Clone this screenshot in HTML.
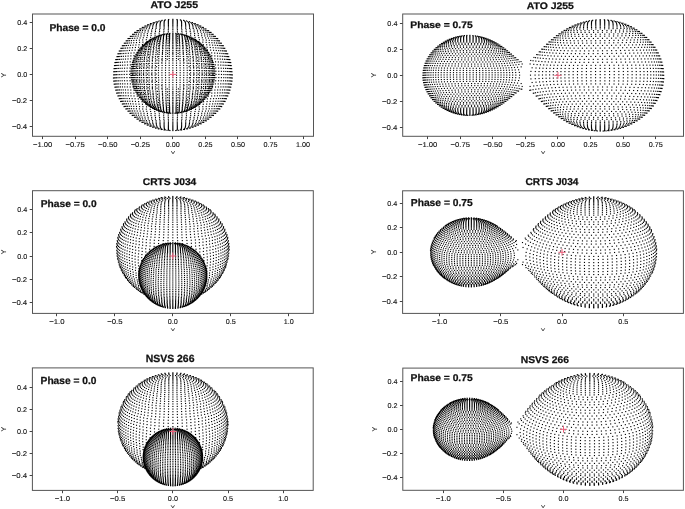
<!DOCTYPE html>
<html><head><meta charset="utf-8"><style>
html,body{margin:0;padding:0;background:#fff}
body{width:685px;height:509px;overflow:hidden;position:relative;font-family:"Liberation Sans", sans-serif}
canvas,svg{position:absolute;left:0;top:0}
svg{fill:#111;font-size:7.0px;font-family:"Liberation Sans", sans-serif;text-rendering:geometricPrecision}
.tk{fill:#111;stroke:#111;stroke-width:0.12px}
.bd{font-weight:bold;stroke:#111;stroke-width:0.25px}
</style></head><body>
<svg id="fb" width="685" height="509" viewBox="0 0 685 509"><polygon points="113.6,79.6 113.4,74.9 113.6,70.3 114.2,65.6 115.2,61.1 116.7,56.7 118.5,52.4 120.7,48.3 123.2,44.5 125.9,40.8 129.0,37.5 132.3,34.3 135.8,31.5 139.4,28.9 143.3,26.7 147.3,24.7 151.4,23.0 155.5,21.7 159.8,20.6 164.1,19.8 164.2,19.8 168.5,19.4 168.6,19.4 172.8,19.2 177.1,19.4 177.2,19.4 181.5,19.8 181.6,19.8 185.9,20.6 190.2,21.7 194.3,23.0 198.4,24.7 202.4,26.7 206.3,28.9 209.9,31.5 213.4,34.3 216.7,37.5 219.8,40.8 222.5,44.5 225.0,48.3 227.2,52.4 229.0,56.7 230.5,61.1 231.5,65.6 232.1,70.3 232.3,74.9 232.1,79.6 231.5,84.2 230.5,88.7 229.0,93.2 227.2,97.4 225.0,101.5 222.5,105.4 219.8,109.0 216.7,112.4 213.4,115.5 213.3,115.6 209.8,118.5 206.1,121.0 202.3,123.3 198.3,125.2 194.2,126.9 190.1,128.2 185.8,129.3 185.6,129.3 181.4,130.0 181.2,130.1 177.0,130.5 176.8,130.5 176.6,130.5 176.4,130.5 176.1,130.5 175.8,130.5 175.4,130.6 175.0,130.6 174.6,130.6 174.2,130.6 173.8,130.6 172.8,130.6 171.9,130.6 171.5,130.6 171.1,130.6 170.7,130.6 170.3,130.6 169.9,130.5 169.6,130.5 169.3,130.5 169.1,130.5 168.9,130.5 168.7,130.5 164.5,130.1 164.3,130.0 160.1,129.3 159.9,129.3 155.6,128.2 151.5,126.9 147.4,125.2 143.4,123.3 139.6,121.0 135.9,118.5 132.4,115.6 132.3,115.5 129.0,112.4 125.9,109.0 123.2,105.4 120.7,101.5 118.5,97.4 116.7,93.2 115.2,88.7 114.2,84.2" fill="rgb(190,190,190)"/><polygon points="130.9,73.3 131.1,70.0 131.5,66.8 132.2,63.6 133.2,60.4 134.4,57.4 135.9,54.5 137.6,51.7 137.7,51.6 139.5,49.1 139.6,49.0 141.7,46.6 144.0,44.3 146.5,42.3 149.1,40.4 151.8,38.8 154.6,37.3 157.5,36.1 160.5,35.1 160.7,35.1 163.7,34.3 166.7,33.8 166.9,33.7 167.1,33.7 170.0,33.4 170.1,33.4 170.3,33.4 170.5,33.4 170.7,33.4 171.0,33.4 171.3,33.4 171.6,33.4 171.9,33.4 172.2,33.3 172.5,33.3 172.8,33.3 173.2,33.3 173.5,33.3 173.8,33.4 174.1,33.4 174.4,33.4 174.7,33.4 175.0,33.4 175.2,33.4 175.4,33.4 175.6,33.4 175.7,33.4 178.6,33.7 178.8,33.7 179.0,33.8 182.0,34.3 185.0,35.1 185.2,35.1 188.2,36.1 191.1,37.3 193.9,38.8 196.6,40.4 199.2,42.3 201.7,44.3 204.0,46.6 206.1,49.0 206.2,49.1 208.0,51.6 208.1,51.7 209.8,54.5 211.3,57.4 212.5,60.4 213.5,63.6 214.2,66.8 214.6,70.0 214.8,73.3 214.6,76.6 214.2,79.9 213.5,83.1 212.5,86.2 211.3,89.2 209.8,92.1 208.1,94.9 206.2,97.5 204.0,100.0 201.8,102.2 199.3,104.3 196.7,106.2 194.0,107.8 191.2,109.3 188.2,110.5 185.3,111.5 185.2,111.5 182.2,112.3 179.1,112.8 176.0,113.2 175.9,113.2 175.8,113.2 175.7,113.2 172.8,113.3 170.0,113.2 169.9,113.2 169.8,113.2 169.7,113.2 166.6,112.8 163.5,112.3 160.5,111.5 160.4,111.5 157.5,110.5 154.5,109.3 151.7,107.8 149.0,106.2 146.4,104.3 143.9,102.2 141.7,100.0 139.5,97.5 137.6,94.9 135.9,92.1 134.4,89.2 133.2,86.2 132.2,83.1 131.5,79.9 131.1,76.6" fill="rgb(164,164,164)"/><polygon points="525.3,87.2 525.3,63.5 547.5,43.1 551.2,39.7 554.9,36.7 558.7,33.8 562.5,31.3 566.5,28.9 570.5,26.8 574.6,25.0 578.7,23.5 582.9,22.2 587.2,21.1 587.3,21.1 591.5,20.3 595.9,19.8 595.9,19.8 596.1,19.8 600.2,19.6 604.4,19.7 604.5,19.7 604.6,19.7 608.9,20.0 613.3,20.6 613.3,20.7 617.7,21.6 622.0,22.8 626.2,24.3 630.4,26.1 634.4,28.2 638.4,30.7 642.2,33.4 645.8,36.4 649.2,39.8 652.3,43.4 655.2,47.3 657.7,51.5 659.9,56.0 661.6,60.6 662.9,65.4 663.6,70.4 663.9,75.3 663.6,80.3 662.9,85.3 661.6,90.1 659.9,94.7 657.7,99.2 655.2,103.4 652.3,107.3 649.2,110.9 645.8,114.3 642.2,117.3 638.4,120.0 634.4,122.5 630.4,124.6 626.2,126.4 622.0,127.9 617.7,129.1 613.3,130.0 613.3,130.1 608.9,130.7 604.6,131.0 604.5,131.0 604.4,131.0 600.2,131.1 596.1,130.9 595.9,130.9 595.9,130.9 591.5,130.4 587.3,129.6 587.2,129.6 582.9,128.5 578.7,127.2 574.6,125.7 570.5,123.9 566.5,121.8 562.5,119.4 558.7,116.9 554.9,114.0 551.2,111.0 547.5,107.6" fill="rgb(216,216,216)"/><polygon points="525.3,84.2 525.0,88.6 503.0,103.6 500.1,105.5 497.2,107.3 494.3,108.9 491.3,110.3 488.4,111.6 485.4,112.7 482.3,113.6 479.3,114.3 479.2,114.3 476.1,114.8 473.0,115.2 473.0,115.2 472.9,115.2 469.9,115.3 466.9,115.3 466.8,115.3 466.8,115.3 463.6,115.1 460.5,114.7 460.5,114.7 457.3,114.1 454.2,113.2 451.1,112.2 448.1,111.0 445.1,109.5 442.2,107.8 439.4,105.9 436.7,103.7 434.1,101.3 431.7,98.7 429.6,95.9 427.6,92.9 425.9,89.6 424.6,86.2 423.6,82.7 423.0,79.0 422.8,75.3 423.0,71.7 423.6,68.0 424.6,64.5 425.9,61.1 427.6,57.8 429.6,54.8 431.7,52.0 434.1,49.4 436.7,47.0 439.4,44.8 442.2,42.9 445.1,41.2 448.1,39.7 451.1,38.5 454.2,37.5 457.3,36.6 460.5,36.0 460.5,36.0 463.6,35.6 466.8,35.4 466.8,35.4 466.9,35.4 469.9,35.4 472.9,35.5 473.0,35.5 473.0,35.5 476.1,35.9 479.2,36.4 479.3,36.4 482.3,37.1 485.4,38.0 488.4,39.1 491.3,40.4 494.3,41.8 497.2,43.4 500.1,45.2 503.0,47.1 525.0,62.1 525.3,66.5" fill="rgb(187,187,187)"/><polygon points="116.4,249.2 116.7,244.9 116.8,243.6 117.4,239.3 118.4,235.2 119.8,231.1 121.5,227.2 122.2,225.9 124.3,222.3 126.6,218.8 129.3,215.6 132.1,212.7 133.1,211.6 136.2,209.0 139.4,206.7 140.6,205.8 143.9,203.8 145.3,203.1 148.5,201.5 150.1,200.9 153.2,199.6 154.7,199.1 157.7,198.3 159.2,197.9 160.8,197.5 163.2,197.1 164.6,196.9 166.1,196.7 167.7,196.5 169.4,196.4 171.1,196.3 172.8,196.3 174.5,196.3 176.2,196.4 177.9,196.5 179.5,196.7 181.0,196.9 182.4,197.1 184.8,197.5 186.4,197.9 187.9,198.3 190.9,199.1 192.4,199.6 195.5,200.9 197.1,201.5 200.3,203.1 201.7,203.8 205.0,205.8 206.2,206.7 209.4,209.0 212.5,211.6 213.5,212.7 216.3,215.6 219.0,218.8 221.3,222.3 223.4,225.9 224.1,227.2 225.8,231.1 227.2,235.2 228.2,239.3 228.8,243.6 228.9,244.9 229.2,249.2 228.9,253.5 228.3,257.8 227.3,262.0 226.9,263.3 225.6,267.3 223.8,271.2 221.8,274.9 219.4,278.3 218.6,279.4 216.0,282.6 213.2,285.6 210.2,288.3 209.1,289.1 206.0,291.5 202.7,293.6 201.5,294.2 198.2,296.0 196.9,296.6 193.6,297.9 192.3,298.4 189.1,299.4 187.8,299.8 186.3,300.1 183.7,300.7 182.4,300.9 180.9,301.1 179.4,301.3 177.8,301.5 176.6,301.6 175.3,301.6 174.1,301.7 172.8,301.7 171.5,301.7 170.3,301.6 169.0,301.6 167.8,301.5 166.2,301.3 164.7,301.1 163.2,300.9 161.9,300.7 159.3,300.1 157.8,299.8 156.5,299.4 153.3,298.4 152.0,297.9 148.7,296.6 147.4,296.0 144.1,294.2 142.9,293.6 139.6,291.5 136.5,289.1 135.4,288.3 132.4,285.6 129.6,282.6 127.0,279.4 126.2,278.3 123.8,274.9 121.8,271.2 120.0,267.3 118.7,263.3 118.3,262.0 117.3,257.8 116.7,253.5" fill="rgb(199,199,199)"/><polygon points="139.2,281.3 138.8,278.7 138.8,277.9 138.7,275.3 138.8,272.7 139.1,270.1 139.7,267.6 140.5,265.1 140.7,264.3 141.7,262.0 142.9,259.7 144.3,257.5 144.8,256.9 146.3,254.9 148.0,253.0 149.8,251.3 150.4,250.7 152.3,249.2 154.3,247.9 155.0,247.5 157.1,246.4 157.9,246.0 159.9,245.1 160.7,244.8 162.7,244.1 163.5,243.9 164.4,243.7 166.0,243.3 166.9,243.1 167.7,243.0 168.7,242.9 169.7,242.8 170.7,242.7 171.7,242.7 172.0,242.7 172.8,242.6 173.6,242.7 173.9,242.7 174.9,242.7 175.9,242.8 176.9,242.9 177.9,243.0 178.7,243.1 179.6,243.3 181.2,243.7 182.1,243.9 182.9,244.1 184.9,244.8 185.7,245.1 187.7,246.0 188.5,246.4 190.6,247.5 191.3,247.9 193.3,249.2 195.2,250.7 195.8,251.3 197.6,253.0 199.3,254.9 200.8,256.9 201.3,257.5 202.7,259.7 203.9,262.0 204.9,264.3 205.1,265.1 205.9,267.6 206.5,270.1 206.8,272.7 206.9,275.3 206.8,277.9 206.8,278.7 206.4,281.3 205.9,283.9 205.1,286.3 204.0,288.7 203.7,289.5 202.5,291.8 201.1,293.9 199.5,295.9 198.9,296.7 197.3,298.5 195.4,300.1 194.6,300.8 192.7,302.2 190.8,303.5 189.9,304.0 187.9,305.0 187.0,305.4 185.0,306.2 184.1,306.6 183.0,306.9 181.3,307.4 180.3,307.6 179.2,307.8 178.0,308.0 177.0,308.1 176.0,308.3 174.9,308.3 173.9,308.4 172.8,308.4 171.7,308.4 170.7,308.3 169.6,308.3 168.6,308.1 167.6,308.0 166.4,307.8 165.3,307.6 164.3,307.4 162.6,306.9 161.5,306.6 160.6,306.2 158.6,305.4 157.7,305.0 155.7,304.0 154.8,303.5 152.9,302.2 151.0,300.8 150.2,300.1 148.3,298.5 146.7,296.7 146.1,295.9 144.5,293.9 143.1,291.8 141.9,289.5 141.6,288.7 140.5,286.3 139.7,283.9" fill="rgb(147,147,147)"/><polygon points="520.5,263.6 519.6,259.8 519.6,244.8 520.5,241.0 543.0,218.9 546.4,215.8 549.9,212.9 553.5,210.3 554.7,209.5 558.3,207.2 561.9,205.1 563.2,204.5 566.8,202.8 568.2,202.2 571.7,200.8 573.2,200.3 576.5,199.3 577.9,198.9 582.2,198.0 583.6,197.7 585.2,197.5 586.7,197.3 589.7,197.0 591.0,196.9 592.4,196.8 593.7,196.8 595.1,196.8 596.4,196.8 597.7,196.9 600.7,197.0 602.4,197.2 603.9,197.4 605.3,197.6 608.1,198.1 609.7,198.4 611.2,198.8 614.5,199.7 616.0,200.2 619.6,201.5 621.0,202.1 624.7,203.8 626.0,204.5 629.7,206.6 633.2,209.0 634.4,209.9 637.9,212.6 641.1,215.7 644.2,219.1 645.1,220.3 647.9,224.0 650.4,228.0 652.5,232.2 654.2,236.7 655.4,241.3 655.8,242.7 656.6,247.5 656.8,252.3 656.6,257.1 655.8,261.9 655.4,263.3 654.2,267.9 652.5,272.4 650.4,276.6 647.9,280.6 645.1,284.3 644.2,285.5 641.1,288.9 637.9,292.0 634.4,294.7 633.2,295.6 629.7,298.0 626.0,300.1 624.7,300.8 621.0,302.5 619.6,303.1 616.0,304.4 614.5,304.9 611.2,305.8 609.7,306.2 608.1,306.5 605.3,307.0 603.9,307.2 602.4,307.4 600.7,307.6 597.7,307.7 596.4,307.8 595.1,307.8 593.7,307.8 592.4,307.8 591.0,307.7 589.7,307.6 586.7,307.3 585.2,307.1 583.6,306.9 582.2,306.6 577.9,305.7 576.5,305.3 573.2,304.3 571.7,303.8 568.2,302.4 566.8,301.8 563.2,300.1 561.9,299.5 558.3,297.4 554.7,295.1 553.5,294.3 549.9,291.7 546.4,288.8 543.0,285.7" fill="rgb(215,215,215)"/><polygon points="519.6,260.9 518.8,263.4 499.1,277.3 496.7,278.8 495.9,279.3 493.6,280.7 491.3,281.9 490.4,282.2 488.2,283.3 485.1,284.4 482.1,285.3 481.2,285.5 479.3,285.9 478.5,286.1 477.6,286.2 476.7,286.4 474.6,286.6 473.8,286.7 473.0,286.8 472.2,286.8 471.3,286.8 470.5,286.8 469.7,286.8 468.8,286.8 468.0,286.8 466.0,286.6 465.0,286.5 464.1,286.4 463.3,286.3 461.3,285.9 460.4,285.7 457.4,284.9 454.2,283.8 451.9,282.8 451.0,282.4 448.7,281.1 446.4,279.7 445.6,279.2 443.3,277.5 441.2,275.6 439.1,273.5 438.5,272.8 436.6,270.4 434.9,267.9 433.5,265.2 432.3,262.4 431.4,259.4 431.1,258.5 430.6,255.4 430.4,252.3 430.6,249.2 431.1,246.1 431.4,245.2 432.3,242.2 433.5,239.4 434.9,236.7 436.6,234.2 438.5,231.8 439.1,231.1 441.2,229.0 443.3,227.1 445.6,225.4 446.4,224.9 448.7,223.5 451.0,222.2 451.9,221.8 454.2,220.8 457.4,219.7 460.4,218.9 461.3,218.7 463.3,218.3 464.1,218.2 465.0,218.1 466.0,218.0 468.0,217.8 468.8,217.8 469.7,217.8 470.5,217.8 471.3,217.8 472.2,217.8 473.0,217.8 473.8,217.9 474.6,218.0 476.7,218.2 477.6,218.4 478.5,218.5 479.3,218.7 481.2,219.1 482.1,219.3 485.1,220.2 488.2,221.3 490.4,222.4 491.3,222.7 493.6,223.9 495.9,225.3 496.7,225.8 499.1,227.3 518.8,241.2 519.6,243.7" fill="rgb(165,165,165)"/><polygon points="118.1,418.6 118.7,414.5 119.7,410.5 121.1,406.6 121.8,405.0 123.4,401.3 125.5,397.9 127.8,394.6 128.9,393.1 131.4,390.2 134.2,387.5 135.6,386.2 138.5,383.9 141.5,381.8 143.1,380.8 146.1,379.1 147.8,378.3 150.7,376.9 152.5,376.2 155.3,375.3 157.0,374.7 158.9,374.2 161.0,373.8 162.9,373.4 164.8,373.1 166.7,372.9 168.8,372.7 170.8,372.6 172.9,372.6 175.0,372.6 177.0,372.7 179.1,372.9 181.0,373.1 182.9,373.4 184.8,373.8 186.9,374.2 188.8,374.7 190.5,375.3 193.3,376.2 195.1,376.9 198.0,378.3 199.7,379.1 202.7,380.8 204.3,381.8 207.3,383.9 210.2,386.2 211.6,387.5 214.4,390.2 216.9,393.1 218.0,394.6 220.3,397.9 222.4,401.3 224.0,405.0 224.7,406.6 226.1,410.5 227.1,414.5 227.7,418.6 227.8,420.3 228.0,424.4 227.8,428.6 227.2,432.7 226.8,434.3 225.9,438.3 224.5,442.2 222.8,445.9 220.8,449.4 220.0,450.8 217.7,454.1 215.2,457.1 214.0,458.4 211.3,461.1 208.4,463.5 207.0,464.6 204.1,466.7 202.4,467.6 200.9,468.5 199.5,469.3 196.4,470.8 194.9,471.5 193.1,472.2 190.4,473.1 188.6,473.7 186.7,474.1 184.5,474.7 182.8,475.0 180.9,475.3 179.0,475.5 177.0,475.7 176.2,475.7 174.6,475.8 172.9,475.8 171.2,475.8 169.6,475.7 168.8,475.7 166.8,475.5 164.9,475.3 163.0,475.0 161.3,474.7 159.1,474.1 157.2,473.7 155.4,473.1 152.7,472.2 150.9,471.5 149.4,470.8 146.3,469.3 144.9,468.5 143.4,467.6 141.7,466.7 138.8,464.6 137.4,463.5 134.5,461.1 131.8,458.4 130.6,457.1 128.1,454.1 125.8,450.8 125.0,449.4 123.0,445.9 121.3,442.2 119.9,438.3 119.0,434.3 118.6,432.7 118.0,428.6 117.8,424.4 118.0,420.3" fill="rgb(200,200,200)"/><polygon points="143.6,462.1 143.3,459.9 143.3,459.0 143.2,456.7 143.3,454.5 143.6,452.3 144.1,450.1 144.3,449.2 145.0,447.1 145.8,445.1 146.9,443.2 147.3,442.4 148.5,440.6 149.8,438.9 150.4,438.1 151.8,436.6 153.4,435.2 154.1,434.6 155.7,433.4 156.6,432.8 158.2,431.9 159.1,431.4 160.7,430.6 161.7,430.2 163.2,429.6 164.1,429.3 165.2,429.0 166.4,428.8 167.4,428.5 168.4,428.4 169.5,428.2 170.6,428.1 171.7,428.1 172.9,428.0 174.1,428.1 175.2,428.1 176.3,428.2 177.4,428.4 178.4,428.5 179.4,428.8 180.6,429.0 181.7,429.3 182.6,429.6 184.1,430.2 185.1,430.6 186.7,431.4 187.6,431.9 189.2,432.8 190.1,433.4 191.7,434.6 192.4,435.2 194.0,436.6 195.4,438.1 196.0,438.9 197.3,440.6 198.5,442.4 198.9,443.2 200.0,445.1 200.8,447.1 201.5,449.2 201.7,450.1 202.2,452.3 202.5,454.5 202.6,456.7 202.5,459.0 202.5,459.9 202.2,462.1 201.7,464.3 201.0,466.4 200.7,467.3 199.8,469.3 198.8,471.2 197.6,473.0 197.0,473.9 195.7,475.5 194.2,477.1 193.5,477.8 191.9,479.1 191.0,479.8 189.5,480.9 187.8,481.9 186.9,482.4 185.8,482.9 184.3,483.6 183.2,484.0 181.8,484.5 180.7,484.8 179.6,485.1 178.3,485.3 177.4,485.5 176.4,485.6 175.2,485.7 174.1,485.8 172.9,485.8 171.7,485.8 170.6,485.7 169.4,485.6 168.4,485.5 167.5,485.3 166.2,485.1 165.1,484.8 164.0,484.5 162.6,484.0 161.5,483.6 160.0,482.9 158.9,482.4 158.0,481.9 156.3,480.9 154.8,479.8 153.9,479.1 152.3,477.8 151.6,477.1 150.1,475.5 148.8,473.9 148.2,473.0 147.0,471.2 146.0,469.3 145.1,467.3 144.8,466.4 144.1,464.3" fill="rgb(122,122,122)"/><polygon points="514.4,429.3 516.0,423.7 528.2,408.2 531.4,404.3 535.8,399.1 539.0,395.7 542.4,392.7 543.9,391.4 547.2,388.6 550.6,386.2 552.2,385.1 555.6,382.9 559.1,381.1 560.7,380.2 564.1,378.7 565.8,378.0 570.8,376.3 572.7,375.8 575.4,375.1 577.2,374.7 579.1,374.3 581.1,374.0 583.2,373.7 584.5,373.6 586.2,373.5 588.0,373.3 589.8,373.3 591.6,373.3 593.4,373.3 595.2,373.4 596.5,373.5 598.6,373.7 600.6,374.0 602.5,374.3 604.3,374.7 607.1,375.3 609.0,375.8 614.0,377.4 615.8,378.1 619.2,379.6 620.9,380.5 624.4,382.4 627.8,384.6 629.4,385.7 632.8,388.3 635.9,391.2 637.3,392.6 640.3,395.9 643.1,399.4 645.5,403.3 646.5,405.0 648.6,409.1 650.2,413.5 651.5,418.0 651.8,419.9 652.6,424.6 652.9,429.3 652.6,434.0 651.8,438.7 651.5,440.6 650.2,445.1 648.6,449.5 646.5,453.6 645.5,455.3 643.1,459.2 640.3,462.7 637.3,466.0 635.9,467.4 632.8,470.3 629.4,472.9 627.8,474.0 624.4,476.2 620.9,478.1 619.2,479.0 615.8,480.5 614.0,481.2 609.0,482.8 607.1,483.3 604.3,483.9 602.5,484.3 600.6,484.6 598.6,484.9 596.5,485.1 595.2,485.2 593.4,485.3 591.6,485.3 589.8,485.3 588.0,485.3 586.2,485.1 584.5,485.0 583.2,484.9 581.1,484.6 579.1,484.3 577.2,483.9 575.4,483.5 572.7,482.8 570.8,482.3 565.8,480.6 564.1,479.9 560.7,478.4 559.1,477.5 555.6,475.7 552.2,473.5 550.6,472.4 547.2,470.0 543.9,467.2 542.4,465.9 539.0,462.9 535.8,459.5 531.4,454.3 528.2,450.4 516.0,434.9" fill="rgb(215,215,215)"/><polygon points="514.4,425.9 514.4,432.7 505.8,441.7 503.6,443.9 500.7,446.7 498.7,448.5 496.6,450.2 493.7,452.3 491.7,453.6 488.8,455.3 486.8,456.3 485.8,456.7 483.9,457.5 482.9,457.9 481.1,458.5 480.2,458.8 477.6,459.5 476.6,459.7 475.6,459.9 473.5,460.2 472.6,460.3 471.6,460.3 470.6,460.4 469.6,460.4 468.6,460.4 467.6,460.4 466.6,460.4 465.7,460.3 464.7,460.2 463.6,460.1 462.5,460.0 461.5,459.8 460.0,459.4 458.9,459.2 457.9,458.9 456.0,458.3 455.0,458.0 453.1,457.2 452.1,456.7 450.1,455.7 448.2,454.5 447.2,453.9 445.3,452.5 443.4,450.9 442.6,450.2 440.8,448.3 439.2,446.3 437.7,444.2 437.1,443.2 435.8,440.9 434.8,438.4 434.0,435.8 433.8,434.7 433.3,432.0 433.1,429.3 433.3,426.6 433.8,423.9 434.0,422.8 434.8,420.2 435.8,417.7 437.1,415.4 437.7,414.4 439.2,412.3 440.8,410.3 442.6,408.4 443.4,407.7 445.3,406.1 447.2,404.7 448.2,404.1 450.1,402.9 452.1,401.9 453.1,401.4 455.0,400.6 456.0,400.3 457.9,399.7 458.9,399.4 460.0,399.2 461.5,398.8 462.5,398.6 463.6,398.5 464.7,398.4 465.7,398.3 466.6,398.2 467.6,398.2 468.6,398.2 469.6,398.2 470.6,398.2 471.6,398.3 472.6,398.3 473.5,398.4 475.6,398.7 476.6,398.9 477.6,399.1 480.2,399.8 481.1,400.1 482.9,400.7 483.9,401.1 485.8,401.9 486.8,402.3 488.8,403.3 491.7,405.0 493.7,406.3 496.6,408.4 498.7,410.1 500.7,411.9 503.6,414.7 505.8,416.9" fill="rgb(144,144,144)"/></svg>
<canvas id="c" width="685" height="509"></canvas>
<svg width="685" height="509" viewBox="0 0 685 509">
<rect x="32.5" y="14.0" width="281.00" height="122.30" fill="none" stroke="#555" stroke-width="1"/>
<line x1="42.50" y1="136.3" x2="42.50" y2="139.10" stroke="#444" stroke-width="1"/>
<text x="42.65" y="146.70" text-anchor="middle" textLength="19.30" lengthAdjust="spacingAndGlyphs" class="tk">−1.00</text>
<line x1="75.50" y1="136.3" x2="75.50" y2="139.10" stroke="#444" stroke-width="1"/>
<text x="75.20" y="146.70" text-anchor="middle" textLength="19.30" lengthAdjust="spacingAndGlyphs" class="tk">−0.75</text>
<line x1="107.50" y1="136.3" x2="107.50" y2="139.10" stroke="#444" stroke-width="1"/>
<text x="107.75" y="146.70" text-anchor="middle" textLength="19.30" lengthAdjust="spacingAndGlyphs" class="tk">−0.50</text>
<line x1="140.50" y1="136.3" x2="140.50" y2="139.10" stroke="#444" stroke-width="1"/>
<text x="140.30" y="146.70" text-anchor="middle" textLength="19.30" lengthAdjust="spacingAndGlyphs" class="tk">−0.25</text>
<line x1="172.50" y1="136.3" x2="172.50" y2="139.10" stroke="#444" stroke-width="1"/>
<text x="172.85" y="146.70" text-anchor="middle" textLength="14.02" lengthAdjust="spacingAndGlyphs" class="tk">0.00</text>
<line x1="205.50" y1="136.3" x2="205.50" y2="139.10" stroke="#444" stroke-width="1"/>
<text x="205.40" y="146.70" text-anchor="middle" textLength="14.02" lengthAdjust="spacingAndGlyphs" class="tk">0.25</text>
<line x1="237.50" y1="136.3" x2="237.50" y2="139.10" stroke="#444" stroke-width="1"/>
<text x="237.95" y="146.70" text-anchor="middle" textLength="14.02" lengthAdjust="spacingAndGlyphs" class="tk">0.50</text>
<line x1="270.50" y1="136.3" x2="270.50" y2="139.10" stroke="#444" stroke-width="1"/>
<text x="270.50" y="146.70" text-anchor="middle" textLength="14.02" lengthAdjust="spacingAndGlyphs" class="tk">0.75</text>
<line x1="303.50" y1="136.3" x2="303.50" y2="139.10" stroke="#444" stroke-width="1"/>
<text x="303.05" y="146.70" text-anchor="middle" textLength="14.02" lengthAdjust="spacingAndGlyphs" class="tk">1.00</text>
<line x1="29.70" y1="22.50" x2="32.5" y2="22.50" stroke="#444" stroke-width="1"/>
<text x="27.20" y="24.82" text-anchor="end" textLength="10.02" lengthAdjust="spacingAndGlyphs" class="tk">0.4</text>
<line x1="29.70" y1="48.50" x2="32.5" y2="48.50" stroke="#444" stroke-width="1"/>
<text x="27.20" y="50.86" text-anchor="end" textLength="10.02" lengthAdjust="spacingAndGlyphs" class="tk">0.2</text>
<line x1="29.70" y1="74.50" x2="32.5" y2="74.50" stroke="#444" stroke-width="1"/>
<text x="27.20" y="76.90" text-anchor="end" textLength="10.02" lengthAdjust="spacingAndGlyphs" class="tk">0.0</text>
<line x1="29.70" y1="100.50" x2="32.5" y2="100.50" stroke="#444" stroke-width="1"/>
<text x="27.20" y="102.94" text-anchor="end" textLength="15.30" lengthAdjust="spacingAndGlyphs" class="tk">−0.2</text>
<line x1="29.70" y1="126.50" x2="32.5" y2="126.50" stroke="#444" stroke-width="1"/>
<text x="27.20" y="128.98" text-anchor="end" textLength="15.30" lengthAdjust="spacingAndGlyphs" class="tk">−0.4</text>
<path d="M169.25 74.40H176.45M172.85 71.00V77.80" stroke="#f0607c" stroke-width="1" fill="none"/>
<path d="M171.30 151.20L173.00 153.80L174.70 151.20" fill="none" stroke="#333" stroke-width="0.9"/>
<text transform="translate(6.20,75.15) rotate(-90)" text-anchor="middle" font-size="6.8" class="tk">Y</text>
<rect x="402.7" y="14.0" width="280.80" height="122.30" fill="none" stroke="#555" stroke-width="1"/>
<line x1="427.50" y1="136.3" x2="427.50" y2="139.10" stroke="#444" stroke-width="1"/>
<text x="427.65" y="146.70" text-anchor="middle" textLength="19.30" lengthAdjust="spacingAndGlyphs" class="tk">−1.00</text>
<line x1="460.50" y1="136.3" x2="460.50" y2="139.10" stroke="#444" stroke-width="1"/>
<text x="460.23" y="146.70" text-anchor="middle" textLength="19.30" lengthAdjust="spacingAndGlyphs" class="tk">−0.75</text>
<line x1="492.50" y1="136.3" x2="492.50" y2="139.10" stroke="#444" stroke-width="1"/>
<text x="492.80" y="146.70" text-anchor="middle" textLength="19.30" lengthAdjust="spacingAndGlyphs" class="tk">−0.50</text>
<line x1="525.50" y1="136.3" x2="525.50" y2="139.10" stroke="#444" stroke-width="1"/>
<text x="525.38" y="146.70" text-anchor="middle" textLength="19.30" lengthAdjust="spacingAndGlyphs" class="tk">−0.25</text>
<line x1="557.50" y1="136.3" x2="557.50" y2="139.10" stroke="#444" stroke-width="1"/>
<text x="557.95" y="146.70" text-anchor="middle" textLength="14.02" lengthAdjust="spacingAndGlyphs" class="tk">0.00</text>
<line x1="590.50" y1="136.3" x2="590.50" y2="139.10" stroke="#444" stroke-width="1"/>
<text x="590.53" y="146.70" text-anchor="middle" textLength="14.02" lengthAdjust="spacingAndGlyphs" class="tk">0.25</text>
<line x1="623.50" y1="136.3" x2="623.50" y2="139.10" stroke="#444" stroke-width="1"/>
<text x="623.10" y="146.70" text-anchor="middle" textLength="14.02" lengthAdjust="spacingAndGlyphs" class="tk">0.50</text>
<line x1="655.50" y1="136.3" x2="655.50" y2="139.10" stroke="#444" stroke-width="1"/>
<text x="655.68" y="146.70" text-anchor="middle" textLength="14.02" lengthAdjust="spacingAndGlyphs" class="tk">0.75</text>
<line x1="399.90" y1="23.50" x2="402.7" y2="23.50" stroke="#444" stroke-width="1"/>
<text x="397.40" y="25.73" text-anchor="end" textLength="10.02" lengthAdjust="spacingAndGlyphs" class="tk">0.4</text>
<line x1="399.90" y1="49.50" x2="402.7" y2="49.50" stroke="#444" stroke-width="1"/>
<text x="397.40" y="51.79" text-anchor="end" textLength="10.02" lengthAdjust="spacingAndGlyphs" class="tk">0.2</text>
<line x1="399.90" y1="75.50" x2="402.7" y2="75.50" stroke="#444" stroke-width="1"/>
<text x="397.40" y="77.85" text-anchor="end" textLength="10.02" lengthAdjust="spacingAndGlyphs" class="tk">0.0</text>
<line x1="399.90" y1="101.50" x2="402.7" y2="101.50" stroke="#444" stroke-width="1"/>
<text x="397.40" y="103.91" text-anchor="end" textLength="15.30" lengthAdjust="spacingAndGlyphs" class="tk">−0.2</text>
<line x1="399.90" y1="127.50" x2="402.7" y2="127.50" stroke="#444" stroke-width="1"/>
<text x="397.40" y="129.97" text-anchor="end" textLength="15.30" lengthAdjust="spacingAndGlyphs" class="tk">−0.4</text>
<path d="M554.35 75.35H561.55M557.95 71.95V78.75" stroke="#f0607c" stroke-width="1" fill="none"/>
<path d="M541.40 151.20L543.10 153.80L544.80 151.20" fill="none" stroke="#333" stroke-width="0.9"/>
<text transform="translate(376.40,75.15) rotate(-90)" text-anchor="middle" font-size="6.8" class="tk">Y</text>
<rect x="32.5" y="190.7" width="280.80" height="122.70" fill="none" stroke="#555" stroke-width="1"/>
<line x1="56.50" y1="313.4" x2="56.50" y2="316.20" stroke="#444" stroke-width="1"/>
<text x="56.90" y="323.80" text-anchor="middle" textLength="15.30" lengthAdjust="spacingAndGlyphs" class="tk">−1.0</text>
<line x1="114.50" y1="313.4" x2="114.50" y2="316.20" stroke="#444" stroke-width="1"/>
<text x="114.85" y="323.80" text-anchor="middle" textLength="15.30" lengthAdjust="spacingAndGlyphs" class="tk">−0.5</text>
<line x1="172.50" y1="313.4" x2="172.50" y2="316.20" stroke="#444" stroke-width="1"/>
<text x="172.80" y="323.80" text-anchor="middle" textLength="10.02" lengthAdjust="spacingAndGlyphs" class="tk">0.0</text>
<line x1="230.50" y1="313.4" x2="230.50" y2="316.20" stroke="#444" stroke-width="1"/>
<text x="230.75" y="323.80" text-anchor="middle" textLength="10.02" lengthAdjust="spacingAndGlyphs" class="tk">0.5</text>
<line x1="288.50" y1="313.4" x2="288.50" y2="316.20" stroke="#444" stroke-width="1"/>
<text x="288.70" y="323.80" text-anchor="middle" textLength="10.02" lengthAdjust="spacingAndGlyphs" class="tk">1.0</text>
<line x1="29.70" y1="209.50" x2="32.5" y2="209.50" stroke="#444" stroke-width="1"/>
<text x="27.20" y="212.14" text-anchor="end" textLength="10.02" lengthAdjust="spacingAndGlyphs" class="tk">0.4</text>
<line x1="29.70" y1="232.50" x2="32.5" y2="232.50" stroke="#444" stroke-width="1"/>
<text x="27.20" y="235.32" text-anchor="end" textLength="10.02" lengthAdjust="spacingAndGlyphs" class="tk">0.2</text>
<line x1="29.70" y1="256.50" x2="32.5" y2="256.50" stroke="#444" stroke-width="1"/>
<text x="27.20" y="258.50" text-anchor="end" textLength="10.02" lengthAdjust="spacingAndGlyphs" class="tk">0.0</text>
<line x1="29.70" y1="279.50" x2="32.5" y2="279.50" stroke="#444" stroke-width="1"/>
<text x="27.20" y="281.68" text-anchor="end" textLength="15.30" lengthAdjust="spacingAndGlyphs" class="tk">−0.2</text>
<line x1="29.70" y1="302.50" x2="32.5" y2="302.50" stroke="#444" stroke-width="1"/>
<text x="27.20" y="304.86" text-anchor="end" textLength="15.30" lengthAdjust="spacingAndGlyphs" class="tk">−0.4</text>
<path d="M169.20 256.00H176.40M172.80 252.60V259.40" stroke="#f0607c" stroke-width="1" fill="none"/>
<path d="M171.20 328.30L172.90 330.90L174.60 328.30" fill="none" stroke="#333" stroke-width="0.9"/>
<text transform="translate(6.20,252.05) rotate(-90)" text-anchor="middle" font-size="6.8" class="tk">Y</text>
<rect x="402.6" y="190.8" width="280.80" height="122.60" fill="none" stroke="#555" stroke-width="1"/>
<line x1="439.50" y1="313.4" x2="439.50" y2="316.20" stroke="#444" stroke-width="1"/>
<text x="439.60" y="323.80" text-anchor="middle" textLength="15.30" lengthAdjust="spacingAndGlyphs" class="tk">−1.0</text>
<line x1="500.50" y1="313.4" x2="500.50" y2="316.20" stroke="#444" stroke-width="1"/>
<text x="500.80" y="323.80" text-anchor="middle" textLength="15.30" lengthAdjust="spacingAndGlyphs" class="tk">−0.5</text>
<line x1="562.50" y1="313.4" x2="562.50" y2="316.20" stroke="#444" stroke-width="1"/>
<text x="562.00" y="323.80" text-anchor="middle" textLength="10.02" lengthAdjust="spacingAndGlyphs" class="tk">0.0</text>
<line x1="623.50" y1="313.4" x2="623.50" y2="316.20" stroke="#444" stroke-width="1"/>
<text x="623.20" y="323.80" text-anchor="middle" textLength="10.02" lengthAdjust="spacingAndGlyphs" class="tk">0.5</text>
<line x1="399.80" y1="203.50" x2="402.6" y2="203.50" stroke="#444" stroke-width="1"/>
<text x="397.30" y="205.84" text-anchor="end" textLength="10.02" lengthAdjust="spacingAndGlyphs" class="tk">0.4</text>
<line x1="399.80" y1="227.50" x2="402.6" y2="227.50" stroke="#444" stroke-width="1"/>
<text x="397.30" y="230.32" text-anchor="end" textLength="10.02" lengthAdjust="spacingAndGlyphs" class="tk">0.2</text>
<line x1="399.80" y1="252.50" x2="402.6" y2="252.50" stroke="#444" stroke-width="1"/>
<text x="397.30" y="254.80" text-anchor="end" textLength="10.02" lengthAdjust="spacingAndGlyphs" class="tk">0.0</text>
<line x1="399.80" y1="276.50" x2="402.6" y2="276.50" stroke="#444" stroke-width="1"/>
<text x="397.30" y="279.28" text-anchor="end" textLength="15.30" lengthAdjust="spacingAndGlyphs" class="tk">−0.2</text>
<line x1="399.80" y1="301.50" x2="402.6" y2="301.50" stroke="#444" stroke-width="1"/>
<text x="397.30" y="303.76" text-anchor="end" textLength="15.30" lengthAdjust="spacingAndGlyphs" class="tk">−0.4</text>
<path d="M558.40 252.30H565.60M562.00 248.90V255.70" stroke="#f0607c" stroke-width="1" fill="none"/>
<path d="M541.30 328.30L543.00 330.90L544.70 328.30" fill="none" stroke="#333" stroke-width="0.9"/>
<text transform="translate(376.30,252.10) rotate(-90)" text-anchor="middle" font-size="6.8" class="tk">Y</text>
<rect x="32.4" y="367.9" width="280.80" height="122.50" fill="none" stroke="#555" stroke-width="1"/>
<line x1="62.50" y1="490.4" x2="62.50" y2="493.20" stroke="#444" stroke-width="1"/>
<text x="62.45" y="500.80" text-anchor="middle" textLength="15.30" lengthAdjust="spacingAndGlyphs" class="tk">−1.0</text>
<line x1="117.50" y1="490.4" x2="117.50" y2="493.20" stroke="#444" stroke-width="1"/>
<text x="117.68" y="500.80" text-anchor="middle" textLength="15.30" lengthAdjust="spacingAndGlyphs" class="tk">−0.5</text>
<line x1="172.50" y1="490.4" x2="172.50" y2="493.20" stroke="#444" stroke-width="1"/>
<text x="172.90" y="500.80" text-anchor="middle" textLength="10.02" lengthAdjust="spacingAndGlyphs" class="tk">0.0</text>
<line x1="228.50" y1="490.4" x2="228.50" y2="493.20" stroke="#444" stroke-width="1"/>
<text x="228.12" y="500.80" text-anchor="middle" textLength="10.02" lengthAdjust="spacingAndGlyphs" class="tk">0.5</text>
<line x1="283.50" y1="490.4" x2="283.50" y2="493.20" stroke="#444" stroke-width="1"/>
<text x="283.35" y="500.80" text-anchor="middle" textLength="10.02" lengthAdjust="spacingAndGlyphs" class="tk">1.0</text>
<line x1="29.60" y1="387.50" x2="32.4" y2="387.50" stroke="#444" stroke-width="1"/>
<text x="27.10" y="389.82" text-anchor="end" textLength="10.02" lengthAdjust="spacingAndGlyphs" class="tk">0.4</text>
<line x1="29.60" y1="409.50" x2="32.4" y2="409.50" stroke="#444" stroke-width="1"/>
<text x="27.10" y="411.91" text-anchor="end" textLength="10.02" lengthAdjust="spacingAndGlyphs" class="tk">0.2</text>
<line x1="29.60" y1="431.50" x2="32.4" y2="431.50" stroke="#444" stroke-width="1"/>
<text x="27.10" y="434.00" text-anchor="end" textLength="10.02" lengthAdjust="spacingAndGlyphs" class="tk">0.0</text>
<line x1="29.60" y1="453.50" x2="32.4" y2="453.50" stroke="#444" stroke-width="1"/>
<text x="27.10" y="456.09" text-anchor="end" textLength="15.30" lengthAdjust="spacingAndGlyphs" class="tk">−0.2</text>
<line x1="29.60" y1="475.50" x2="32.4" y2="475.50" stroke="#444" stroke-width="1"/>
<text x="27.10" y="478.18" text-anchor="end" textLength="15.30" lengthAdjust="spacingAndGlyphs" class="tk">−0.4</text>
<path d="M169.30 431.50H176.50M172.90 428.10V434.90" stroke="#f0607c" stroke-width="1" fill="none"/>
<path d="M171.10 505.30L172.80 507.90L174.50 505.30" fill="none" stroke="#333" stroke-width="0.9"/>
<text transform="translate(6.10,429.15) rotate(-90)" text-anchor="middle" font-size="6.8" class="tk">Y</text>
<rect x="402.8" y="368.1" width="280.60" height="122.20" fill="none" stroke="#555" stroke-width="1"/>
<line x1="443.50" y1="490.3" x2="443.50" y2="493.10" stroke="#444" stroke-width="1"/>
<text x="443.30" y="500.70" text-anchor="middle" textLength="15.30" lengthAdjust="spacingAndGlyphs" class="tk">−1.0</text>
<line x1="503.50" y1="490.3" x2="503.50" y2="493.10" stroke="#444" stroke-width="1"/>
<text x="503.40" y="500.70" text-anchor="middle" textLength="15.30" lengthAdjust="spacingAndGlyphs" class="tk">−0.5</text>
<line x1="563.50" y1="490.3" x2="563.50" y2="493.10" stroke="#444" stroke-width="1"/>
<text x="563.50" y="500.70" text-anchor="middle" textLength="10.02" lengthAdjust="spacingAndGlyphs" class="tk">0.0</text>
<line x1="623.50" y1="490.3" x2="623.50" y2="493.10" stroke="#444" stroke-width="1"/>
<text x="623.60" y="500.70" text-anchor="middle" textLength="10.02" lengthAdjust="spacingAndGlyphs" class="tk">0.5</text>
<line x1="400.00" y1="381.50" x2="402.8" y2="381.50" stroke="#444" stroke-width="1"/>
<text x="397.50" y="383.72" text-anchor="end" textLength="10.02" lengthAdjust="spacingAndGlyphs" class="tk">0.4</text>
<line x1="400.00" y1="405.50" x2="402.8" y2="405.50" stroke="#444" stroke-width="1"/>
<text x="397.50" y="407.76" text-anchor="end" textLength="10.02" lengthAdjust="spacingAndGlyphs" class="tk">0.2</text>
<line x1="400.00" y1="429.50" x2="402.8" y2="429.50" stroke="#444" stroke-width="1"/>
<text x="397.50" y="431.80" text-anchor="end" textLength="10.02" lengthAdjust="spacingAndGlyphs" class="tk">0.0</text>
<line x1="400.00" y1="453.50" x2="402.8" y2="453.50" stroke="#444" stroke-width="1"/>
<text x="397.50" y="455.84" text-anchor="end" textLength="15.30" lengthAdjust="spacingAndGlyphs" class="tk">−0.2</text>
<line x1="400.00" y1="477.50" x2="402.8" y2="477.50" stroke="#444" stroke-width="1"/>
<text x="397.50" y="479.88" text-anchor="end" textLength="15.30" lengthAdjust="spacingAndGlyphs" class="tk">−0.4</text>
<path d="M559.90 429.30H567.10M563.50 425.90V432.70" stroke="#f0607c" stroke-width="1" fill="none"/>
<path d="M541.40 505.20L543.10 507.80L544.80 505.20" fill="none" stroke="#333" stroke-width="0.9"/>
<text transform="translate(376.50,429.20) rotate(-90)" text-anchor="middle" font-size="6.8" class="tk">Y</text>
<text x="150.40" y="8.35" class="bd" font-size="9.72" textLength="47.70" lengthAdjust="spacingAndGlyphs">ATO J255</text>
<text x="526.70" y="9.05" class="bd" font-size="9.51" textLength="47.20" lengthAdjust="spacingAndGlyphs">ATO J255</text>
<text x="142.80" y="185.10" class="bd" font-size="9.72" textLength="53.50" lengthAdjust="spacingAndGlyphs">CRTS J034</text>
<text x="525.40" y="184.90" class="bd" font-size="10.00" textLength="53.10" lengthAdjust="spacingAndGlyphs">CRTS J034</text>
<text x="145.70" y="361.70" class="bd" font-size="10.42" textLength="48.80" lengthAdjust="spacingAndGlyphs">NSVS 266</text>
<text x="520.70" y="363.30" class="bd" font-size="9.72" textLength="48.20" lengthAdjust="spacingAndGlyphs">NSVS 266</text>
<text x="49.40" y="30.80" class="bd" font-size="10.00" textLength="56.10" lengthAdjust="spacingAndGlyphs">Phase = 0.0</text>
<text x="410.30" y="27.80" class="bd" font-size="9.44" textLength="62.40" lengthAdjust="spacingAndGlyphs">Phase = 0.75</text>
<text x="40.80" y="207.10" class="bd" font-size="9.86" textLength="55.80" lengthAdjust="spacingAndGlyphs">Phase = 0.0</text>
<text x="410.80" y="205.80" class="bd" font-size="10.14" textLength="61.90" lengthAdjust="spacingAndGlyphs">Phase = 0.75</text>
<text x="40.60" y="384.10" class="bd" font-size="10.28" textLength="55.80" lengthAdjust="spacingAndGlyphs">Phase = 0.0</text>
<text x="410.60" y="381.05" class="bd" font-size="9.79" textLength="62.10" lengthAdjust="spacingAndGlyphs">Phase = 0.75</text>
</svg>
<script>
(function(){
var CFG=[{"x0": 172.85, "y0": 74.4, "s": 130.2, "sys": "A", "ph": 0, "box": [32.5, 14.0, 313.5, 136.3]}, {"x0": 557.95, "y0": 75.35, "s": 130.3, "sys": "A", "ph": 0.75, "box": [402.7, 14.0, 683.5, 136.3]}, {"x0": 172.8, "y0": 256.0, "s": 115.9, "sys": "C", "ph": 0, "box": [32.5, 190.7, 313.3, 313.4]}, {"x0": 562.0, "y0": 252.3, "s": 122.4, "sys": "C", "ph": 0.75, "box": [402.6, 190.8, 683.4, 313.4]}, {"x0": 172.9, "y0": 431.5, "s": 110.45, "sys": "N", "ph": 0, "box": [32.4, 367.9, 313.2, 490.4]}, {"x0": 563.5, "y0": 429.3, "s": 120.2, "sys": "N", "ph": 0.75, "box": [402.8, 368.1, 683.4, 490.3]}], SYS={"A": {"q": 0.48, "f": 0.2, "i": 90.7, "occ": 0, "ds2": 4.5}, "C": {"q": 0.35, "f": 0.2, "i": 77.0, "occ": 1}, "N": {"q": 0.28, "f": 0.05, "i": 73.0, "occ": 1}}, O={"NT": 61, "NP": 80, "AL": 1, "AX": "z", "EQA": 1, "VIS": 1, "DS": 0, "T0": 0, "P0": 0, "MUL": 2, "XD": 0.014, "SS": 4, "DSS": 4.5, "OCC": 0.001};
var NT=O.NT, NP=O.NP, AL=O.AL, AX=O.AX, EQA=O.EQA, VIS=O.VIS, DS=O.DS;
function om(x,y,z,q){var r1=Math.sqrt(x*x+y*y+z*z),r2=Math.sqrt((x-1)*(x-1)+y*y+z*z);return 1/r1+q*(1/r2-x)+0.5*(1+q)*(x*x+y*y);}
function bis(f,a,b){var fa=f(a);for(var k=0;k<50;k++){var m=(a+b)/2,fm=f(m);if((fm>0)==(fa>0)){a=m;fa=fm;}else b=m;}return (a+b)/2;}
function surf(q,Om,xc){var P=[];for(var i=0;i<NT;i++){var tt=(i+O.T0)/(NT-1+2*O.T0),th=(1-(O.TZ||0))*Math.PI*tt+(O.TZ||0)*Math.acos(1-2*tt),st=Math.sin(th),ct=Math.cos(th);
 var M=O.MUL||1,n=EQA?Math.max(O.NMIN||M,M*Math.round(NP*Math.pow(st,O.PW||1)/M)):NP;if(i==0||i==NT-1)n=1;
 for(var j=0;j<n;j++){var ph=2*Math.PI*(j+O.P0)/n,a,b,c;
  if(AX=='x'){a=ct;b=st*Math.cos(ph);c=st*Math.sin(ph);}else{a=st*Math.cos(ph);b=st*Math.sin(ph);c=ct;}
  var rm=a>1e-9?Math.min((xc-(O.XD||0))/a,2):2;var g=function(r){return om(r*a,r*b,r*c,q)-Om;};
  var r0=1e-4,found=-1,N=120;for(var k=1;k<=N;k++){var rr=1e-4+(rm-1e-4)*k/N;if(g(rr)<0){found=rr;break;}r0=rr;}
  if(found<0)continue;var r=bis(g,r0,found);P.push([r*a,r*b,r*c]);}}return P;}
var cache={};
function sys(k){if(cache[k])return cache[k];var s=SYS[k],q=s.q;
 var x1=bis(function(x){return -1/(x*x)+q*(1/((1-x)*(1-x))-1)+(1+q)*x;},1e-6,1-1e-6);
 var x2=bis(function(x){return -1/(x*x)+q*(-1/((x-1)*(x-1))-1)+(1+q)*x;},1+1e-6,3);
 var Oi=om(x1,0,0,q),Oo=om(x2,0,0,q),Om=Oi-s.f*(Oi-Oo);
 var p=surf(q,Om,x1),q2=1/q,s2=surf(q2,Om/q+0.5*(q-1)/q,1-x1);
 var Xp=-q/(1+q),Xs=1/(1+q),A=[];
 p.forEach(function(v){A.push([Xp+v[0],v[1],v[2],v[0],v[1],v[2],0]);});
 s2.forEach(function(v){A.push([Xs-v[0],v[1],v[2],-v[0],v[1],v[2],1]);});
 cache[k]=A;return A;}
var cv=document.getElementById('c'),mctx=cv.getContext('2d');
var SS=O.SS||1,W=685,H=509,oc,ctx;
if(SS>1){oc=document.createElement('canvas');oc.width=W*SS;oc.height=H*SS;ctx=oc.getContext('2d');}else{ctx=mctx;}
ctx.fillStyle='rgba(0,0,0,'+AL+')';
CFG.forEach(function(c){var A=sys(c.sys),s=SYS[c.sys],ci=Math.cos(s.i*Math.PI/180),si=Math.sin(s.i*Math.PI/180);
 ctx.save();ctx.beginPath();ctx.rect(c.box[0]*SS,c.box[1]*SS,(c.box[2]-c.box[0])*SS,(c.box[3]-c.box[1])*SS);ctx.clip();
 function pj(v){if(c.ph==0)return [v[1],-v[0]*ci+v[2]*si];return [-v[0],v[1]*ci+v[2]*si];}
 var NB=180,R=null,sc=[0,0];
 if(O.OCC&&c.ph==0&&s.occ){R=new Array(NB).fill(0);var Xs=1/(1+s.q);sc=pj([Xs,0,0]);
  A.forEach(function(v){if(v[6]!=1)return;var p=pj(v),du=p[0]-sc[0],dw=p[1]-sc[1],a=Math.atan2(dw,du),b=Math.floor((a+Math.PI)/(2*Math.PI)*NB)%NB,r=Math.sqrt(du*du+dw*dw);if(r>R[b])R[b]=r;});
  for(var t=0;t<2;t++){var R2=R.slice();for(var b=0;b<NB;b++){R2[b]=Math.max(R[b],Math.min(R[(b+1)%NB],R[(b+NB-1)%NB]));}R=R2;}}
 A.forEach(function(v){var u,w,d;if(c.ph==0){u=v[1];w=-v[0]*ci+v[2]*si;d=v[3]*si+v[5]*ci;}else{u=-v[0];w=v[1]*ci+v[2]*si;d=-v[4]*si+v[5]*ci;}
  if(VIS&&d<(O.EPS||0)*Math.sqrt(v[3]*v[3]+v[4]*v[4]+v[5]*v[5]))return;
  if(R&&v[6]==0){var du=u-sc[0],dw=w-sc[1],a=Math.atan2(dw,du),b=Math.floor((a+Math.PI)/(2*Math.PI)*NB)%NB;if(Math.sqrt(du*du+dw*dw)<R[b]-O.OCC)return;}
  var px=c.x0+u*c.s,py=c.y0-w*c.s;
  if(SS>1){var q=(v[6]==1?s.ds2:s.ds)||O.DSS;ctx.fillRect(px*SS-q/2,py*SS-q/2,q,q);}
  else if(DS==0)ctx.fillRect(Math.floor(px),Math.floor(py),1,1);else ctx.fillRect(px-DS/2,py-DS/2,DS,DS);});
 ctx.restore();});
if(SS>1){var src=ctx.getImageData(0,0,W*SS,H*SS).data,out=mctx.createImageData(W,H),od=out.data,n2=SS*SS,G=O.GAM||1;
 for(var y=0;y<H;y++)for(var x=0;x<W;x++){var acc=0;for(var yy=0;yy<SS;yy++){var row=((y*SS+yy)*W*SS+x*SS)*4+3;for(var xx=0;xx<SS;xx++)acc+=src[row+xx*4];}
  var a=acc/n2/255;if(G!=1)a=Math.pow(a,G);var k=(y*W+x)*4;od[k]=0;od[k+1]=0;od[k+2]=0;od[k+3]=Math.round(a*255);}
 mctx.putImageData(out,0,0);}
ctx=mctx;
var fbe=document.getElementById('fb');if(fbe)fbe.style.display='none';

})();

</script>
</body></html>
